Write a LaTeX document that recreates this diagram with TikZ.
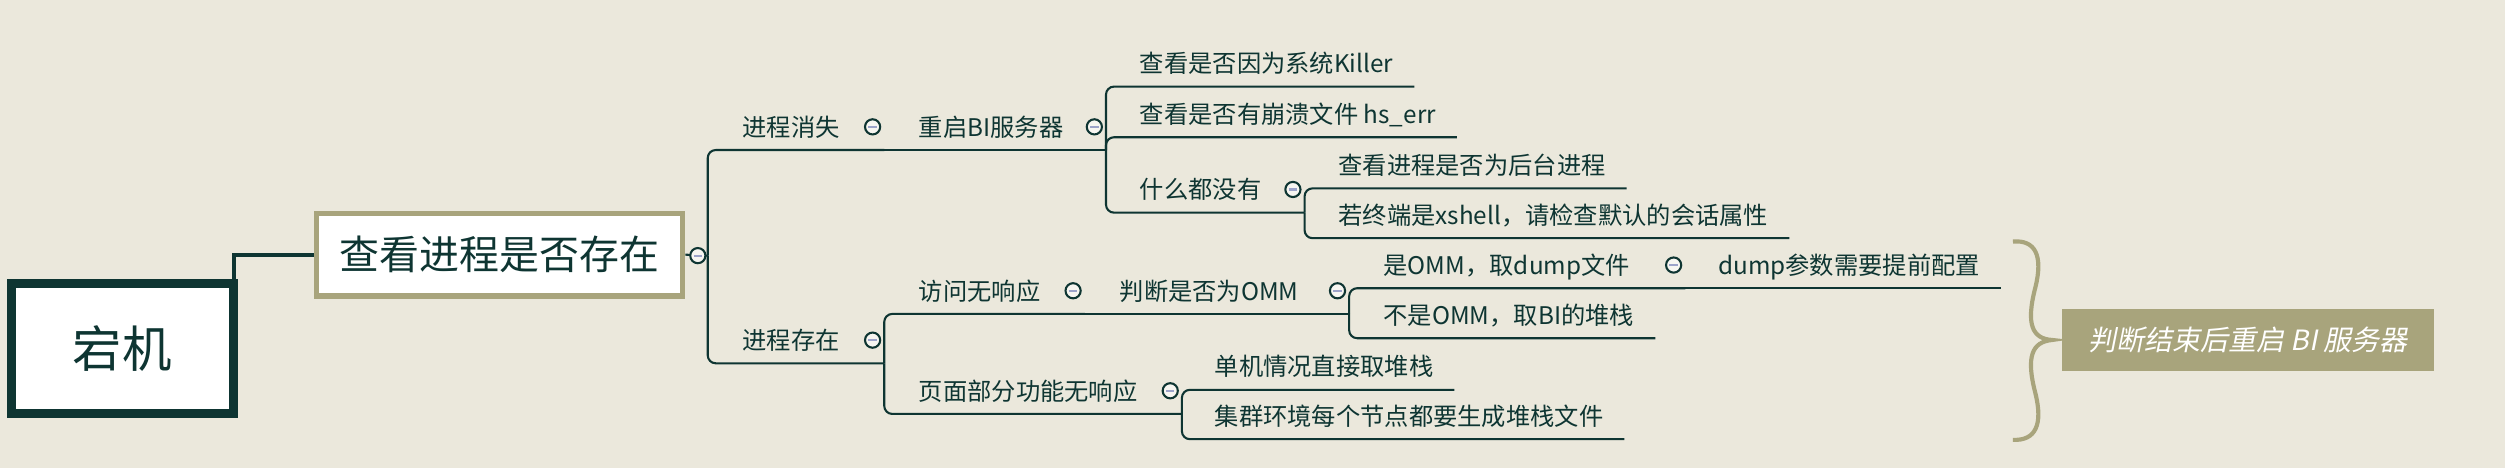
\documentclass[tikz,border=0pt]{standalone}
\usepackage{fontspec}
\setmainfont{Noto Sans CJK SC}
\newfontfamily\slantcjk[FakeSlant=0.2]{Noto Sans CJK SC}
\usetikzlibrary{calc}
\definecolor{paper}{HTML}{EBE8DC}
\definecolor{ink}{HTML}{0E3532}
\definecolor{khaki}{HTML}{A8A47C}
\definecolor{minuscol}{HTML}{9CA3C9}
\tikzset{
	topic/.style={anchor=south west, inner xsep=0pt, inner ysep=5.5pt, text height=12pt, text depth=3pt, font=\fontsize{15.2}{18}\selectfont, text=ink},
	branch/.style={draw=ink, line width=1.3pt, rounded corners=5pt},
	rootlink/.style={draw=ink, line width=2.3pt},
	fold/.style={circle, draw=ink, line width=1.3pt, fill=white!60!paper, minimum size=9.5pt, inner sep=0pt,
		path picture={\draw[minuscol, line width=1.4pt] ([xshift=-2.6pt]path picture bounding box.center) -- ([xshift=2.6pt]path picture bounding box.center);}},
}

\begin{document}
\begin{tikzpicture}[x=1pt, y=-1pt]
			%%%%% START %%%%%
			
			\fill[paper] (0,0) rectangle (1568,293);
			\useasboundingbox (0,0) rectangle (1568,293);
			
			\node[draw=ink, line width=5.5pt, fill=white, minimum width=139pt, minimum height=81.7pt, font=\fontsize{31}{36}\selectfont, text=ink] (root) at (76.6,218.2) {宕机};
			\node[draw=khaki, line width=3.4pt, fill=white, minimum width=229.3pt, minimum height=51.8pt, font=\fontsize{25}{30}\selectfont, text=ink] (main) at (312.6,159.4) {查看进程是否存在};
			
			\node[topic] (a1) at (464.6,93.9) {进程消失};
			\node[topic] (a2) at (464.6,227.4) {进程存在};
			
			\node[topic] (b1) at (575,93.9) {重启BI服务器};
			\node[topic] (b2) at (575,196.5) {访问无响应};
			\node[topic] (b3) at (575,259.1) {页面部分功能无响应};
			
			\node[topic] (c1) at (713.3,54.2) {查看是否因为系统Killer};
			\node[topic] (c2) at (713.3,85.9) {查看是否有崩溃文件 hs\_err};
			\node[topic] (c3) at (713.3,133.1) {什么都没有};
			\node[topic] (c4) at (700.7,196.5) {判断是否为OMM};
			\node[topic] (c5) at (760.2,244) {单机情况直接取堆栈};
			\node[topic] (c6) at (760.2,274.9) {集群环境每个节点都要生成堆栈文件};
			
			\node[topic] (d1) at (837.6,117.9) {查看进程是否为后台进程};
			\node[topic] (d2) at (837.6,149.1) {若终端是xshell，请检查默认的会话属性};
			\node[topic] (d3) at (865.9,180.4) {是OMM，取dump文件};
			\node[topic] (d4) at (865.9,211.7) {不是OMM，取BI的堆栈};
			
			\node[topic] (e1) at (1075.4,180.4) {dump参数需要提前配置};
			
			% forks
			\coordinate (f0) at (443,160);
			\coordinate (fa1) at (553.5,93.9);
			\coordinate (fa2) at (553.5,227.4);
			\coordinate (fb1) at (692.3,93.9);
			\coordinate (fb2) at (679,196.5);
			\coordinate (fb3) at (739.8,259.1);
			\coordinate (fc3) at (816.6,133.1);
			\coordinate (fc4) at (844.5,196.5);
			\coordinate (fd3) at (1054.9,180.4);
			
			\draw[rootlink] ([xshift=-2.3pt]root.north east) |- (main.west);
			\draw[branch] (main.east) -- (f0);
			\draw[branch] (f0) |- (fa1);
			\draw[branch] (f0) |- (fa2);
			\draw[branch] (fa1) -- (fb1);
			\draw[branch] (fa2) |- (fb2);
			\draw[branch] (fa2) |- (fb3);
			\draw[branch] (fb1) |- ([xshift=13pt]c1.south east);
			\draw[branch] (fb1) |- ([xshift=13pt]c2.south east);
			\draw[branch] (fb1) |- (fc3);
			\draw[branch] (fb2) -- (fc4);
			\draw[branch] (fb3) |- ([xshift=13pt]c5.south east);
			\draw[branch] (fb3) |- ([xshift=13pt]c6.south east);
			\draw[branch] (fc3) |- ([xshift=13pt]d1.south east);
			\draw[branch] (fc3) |- ([xshift=13pt]d2.south east);
			\draw[branch] (fc4) |- (fd3);
			\draw[branch] (fc4) |- ([xshift=13pt]d4.south east);
			\draw[branch] (fd3) -- ([xshift=13pt]e1.south east);
			
			% fold buttons
			\node[fold] (o0) at (436.8,160) {};
			\node[fold] (oa1) at (546.2,79.4) {};
			\node[fold] (oa2) at (546.2,212.9) {};
			\node[fold] (ob1) at (685,79.4) {};
			\node[fold] (ob2) at (671.7,182) {};
			\node[fold] (ob3) at (732.5,244.6) {};
			\node[fold] (oc3) at (809.3,118.6) {};
			\node[fold] (oc4) at (837.2,182) {};
			\node[fold] (od3) at (1047.6,165.9) {};
			
			% summary
			\draw[khaki, line width=2.6pt] (1260,151.2) .. controls (1274,150) and (1279,160) .. (1274,180)
				.. controls (1268,203) and (1272,212) .. (1284.5,212.8)
				.. controls (1272,214) and (1268,223) .. (1274,246)
				.. controls (1279,266) and (1274,276) .. (1260,275.3);
			\node[fill=khaki, minimum width=233pt, minimum height=38.4pt, font=\slantcjk\fontsize{17.5}{21}\selectfont, text=white] (note) at (1407.2,212.8) {判断结束后重启 BI 服务器};
			
			%%%%% END %%%%%
\end{tikzpicture}
\end{document}
